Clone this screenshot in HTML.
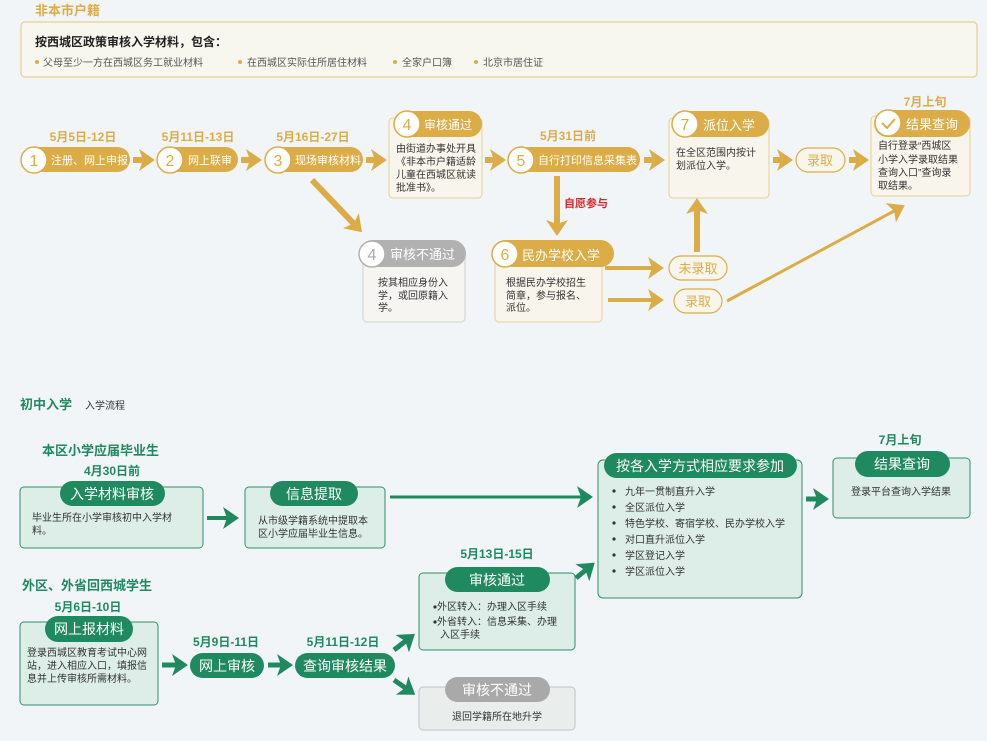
<!DOCTYPE html>
<html><head><meta charset="utf-8"><style>
html,body{margin:0;padding:0;background:#f1f5f8;}
svg{display:block;font-family:"Liberation Sans","Noto Sans CJK SC",sans-serif;}
</style></head><body>
<svg width="987" height="741" viewBox="0 0 987 741" xmlns="http://www.w3.org/2000/svg">
<defs>
<marker id="mg" markerWidth="18" markerHeight="22" refX="6" refY="11" orient="auto" markerUnits="userSpaceOnUse"><path d="M0,0 L16,11 L0,22 L4,11z" fill="#dcad47"/></marker>
<marker id="mgr" markerWidth="18" markerHeight="22" refX="6" refY="11" orient="auto" markerUnits="userSpaceOnUse"><path d="M0,0 L16,11 L0,22 L4,11z" fill="#1f8a5f"/></marker>
</defs>
<rect width="987" height="741" fill="#f1f5f8"/>

<!-- TOP SECTION -->
<text x="35" y="15" font-size="13" font-weight="bold" fill="#dcad47">非本市户籍</text>
<rect x="21" y="22" width="956" height="55" rx="4" fill="#f8f7ef" stroke="#e6cf90" stroke-width="1.2"/>
<text x="35" y="46" font-size="12" font-weight="bold" fill="#222">按西城区政策审核入学材料，包含：</text>
<g font-size="10" fill="#555">
<circle cx="37" cy="62" r="2" fill="#dcad47"/><text x="43" y="66">父母至少一方在西城区务工就业材料</text>
<circle cx="240" cy="62" r="2" fill="#dcad47"/><text x="247" y="66">在西城区实际住所居住材料</text>
<circle cx="395" cy="62" r="2" fill="#dcad47"/><text x="402" y="66">全家户口簿</text>
<circle cx="476" cy="62" r="2" fill="#dcad47"/><text x="483" y="66">北京市居住证</text>
</g>

<!-- dates -->
<g font-size="12" font-weight="bold" fill="#dcad47" text-anchor="middle">
<text x="83" y="141">5月5日-12日</text>
<text x="198" y="141">5月11日-13日</text>
<text x="313" y="141">5月16日-27日</text>
<text x="568" y="140">5月31日前</text>
<text x="925" y="106">7月上旬</text>
</g>

<!-- pills row 1 -->
<rect x="22" y="147" width="108" height="25" rx="12.5" fill="#dcad47"/>
<circle cx="34" cy="160" r="13" fill="#fff" stroke="#dcad47" stroke-width="1.5"/><text x="34" y="166" font-size="16" fill="#dcad47" text-anchor="middle">1</text>
<text x="51" y="164" font-size="11" fill="#fff">注册、网上申报</text>

<rect x="158" y="147" width="80" height="25" rx="12.5" fill="#dcad47"/>
<circle cx="170" cy="160" r="13" fill="#fff" stroke="#dcad47" stroke-width="1.5"/><text x="170" y="166" font-size="16" fill="#dcad47" text-anchor="middle">2</text>
<text x="188" y="164" font-size="11" fill="#fff">网上联审</text>

<rect x="266" y="147" width="97" height="25" rx="12.5" fill="#dcad47"/>
<circle cx="278" cy="160" r="13" fill="#fff" stroke="#dcad47" stroke-width="1.5"/><text x="278" y="166" font-size="16" fill="#dcad47" text-anchor="middle">3</text>
<text x="295" y="164" font-size="11" fill="#fff">现场审核材料</text>

<!-- box 4 pass -->
<rect x="389" y="118" width="93" height="80" rx="4" fill="#f8f5ec" stroke="#e6cf90"/>
<rect x="394" y="111" width="88" height="26" rx="13" fill="#dcad47"/>
<circle cx="407" cy="124" r="13" fill="#fff" stroke="#dcad47" stroke-width="1.5"/><text x="407" y="130" font-size="16" fill="#dcad47" text-anchor="middle">4</text>
<text x="424" y="129" font-size="12" fill="#fff">审核通过</text>
<g font-size="10" fill="#333"><text x="396" y="152">由街道办事处开具</text><text x="396" y="165">《非本市户籍适龄</text><text x="396" y="178">儿童在西城区就读</text><text x="396" y="191">批准书》。</text></g>

<!-- pill 5 -->
<rect x="509" y="147" width="131" height="25" rx="12.5" fill="#dcad47"/>
<circle cx="521" cy="160" r="13" fill="#fff" stroke="#dcad47" stroke-width="1.5"/><text x="521" y="166" font-size="16" fill="#dcad47" text-anchor="middle">5</text>
<text x="538" y="164" font-size="11" fill="#fff">自行打印信息采集表</text>

<!-- box 7 -->
<rect x="669" y="118" width="100" height="80" rx="4" fill="#f8f5ec" stroke="#e6cf90"/>
<rect x="673" y="111" width="96" height="26" rx="13" fill="#dcad47"/>
<circle cx="685" cy="124" r="13" fill="#fff" stroke="#dcad47" stroke-width="1.5"/><text x="685" y="130" font-size="16" fill="#dcad47" text-anchor="middle">7</text>
<text x="703" y="130" font-size="13" fill="#fff">派位入学</text>
<g font-size="10" fill="#333"><text x="676" y="156">在全区范围内按计</text><text x="676" y="169">划派位入学。</text></g>

<rect x="796" y="148" width="49" height="24" rx="12" fill="#f8f5ec" stroke="#dcad47" stroke-width="1.2"/>
<text x="820" y="165" font-size="13" fill="#dcad47" text-anchor="middle">录取</text>

<!-- result box -->
<rect x="871" y="116" width="99" height="80" rx="4" fill="#f8f5ec" stroke="#e6cf90"/>
<rect x="874" y="110" width="96" height="27" rx="13.5" fill="#dcad47"/>
<circle cx="888" cy="123" r="13" fill="#fff" stroke="#dcad47" stroke-width="1.5"/>
<path d="M882,123 L887,128 L895,119" fill="none" stroke="#dcad47" stroke-width="2"/>
<text x="906" y="129" font-size="13" fill="#fff">结果查询</text>
<g font-size="10" fill="#333"><text x="878" y="149">自行登录“西城区</text><text x="878" y="163">小学入学录取结果</text><text x="878" y="176">查询入口”查询录</text><text x="878" y="189">取结果。</text></g>

<!-- box 4 fail -->
<rect x="363" y="250" width="102" height="72" rx="4" fill="#f6f5f2" stroke="#cfcfcf"/>
<rect x="359" y="240" width="107" height="27" rx="13.5" fill="#b1b1b1"/>
<circle cx="372" cy="254" r="13" fill="#fff" stroke="#b1b1b1" stroke-width="1.5"/><text x="372" y="260" font-size="16" fill="#aaa" text-anchor="middle">4</text>
<text x="390" y="259" font-size="13" fill="#fff">审核不通过</text>
<g font-size="10" fill="#333"><text x="378" y="286">按其相应身份入</text><text x="378" y="299">学，或回原籍入</text><text x="378" y="311">学。</text></g>

<!-- box 6 -->
<rect x="495" y="250" width="107" height="72" rx="4" fill="#f8f5ec" stroke="#e6cf90"/>
<rect x="492" y="240" width="122" height="27" rx="13.5" fill="#dcad47"/>
<circle cx="505" cy="254" r="13" fill="#fff" stroke="#dcad47" stroke-width="1.5"/><text x="505" y="260" font-size="16" fill="#dcad47" text-anchor="middle">6</text>
<text x="522" y="260" font-size="13" fill="#fff">民办学校入学</text>
<g font-size="10" fill="#333"><text x="506" y="286">根据民办学校招生</text><text x="506" y="299">简章，参与报名、</text><text x="506" y="311">派位。</text></g>

<rect x="669" y="256" width="58" height="24" rx="12" fill="#f8f5ec" stroke="#dcad47" stroke-width="1.2"/>
<text x="698" y="273" font-size="13" fill="#dcad47" text-anchor="middle">未录取</text>
<rect x="674" y="289" width="48" height="24" rx="12" fill="#f8f5ec" stroke="#dcad47" stroke-width="1.2"/>
<text x="698" y="306" font-size="13" fill="#dcad47" text-anchor="middle">录取</text>

<text x="564" y="207" font-size="11" font-weight="bold" fill="#d8262b">自愿参与</text>

<!-- gold arrows -->
<g stroke="#dcad47" stroke-width="6" marker-end="url(#mg)">
<line x1="133" y1="160" x2="145" y2="160"/>
<line x1="241" y1="160" x2="252" y2="160"/>
<line x1="366" y1="160" x2="377" y2="160"/>
<line x1="485" y1="160" x2="496" y2="160"/>
<line x1="644" y1="160" x2="655" y2="160"/>
<line x1="773" y1="160" x2="783" y2="160"/>
<line x1="849" y1="160" x2="859" y2="160"/>
<line x1="557" y1="176" x2="557" y2="226"/>
<line x1="312" y1="180" x2="355" y2="225"/>
<line x1="697" y1="252" x2="697" y2="208"/>
</g>
<g stroke="#dcad47" marker-end="url(#mg)">
<line x1="605" y1="268" x2="654" y2="268" stroke-width="4"/>
<line x1="608" y1="300" x2="654" y2="300" stroke-width="4"/>
<line x1="727" y1="301" x2="896" y2="210" stroke-width="3"/>
</g>

<!-- BOTTOM SECTION -->
<text x="20" y="409" font-size="13" font-weight="bold" fill="#1f8a5f">初中入学</text>
<text x="85" y="409" font-size="10" fill="#333">入学流程</text>
<text x="42" y="455" font-size="13" font-weight="bold" fill="#1f8a5f">本区小学应届毕业生</text>
<g font-size="12" font-weight="bold" fill="#1f8a5f" text-anchor="middle">
<text x="112" y="475">4月30日前</text>
<text x="88" y="611">5月6日-10日</text>
<text x="226" y="646">5月9日-11日</text>
<text x="343" y="646">5月11日-12日</text>
<text x="497" y="558">5月13日-15日</text>
<text x="900" y="444">7月上旬</text>
</g>
<text x="22" y="590" font-size="13" font-weight="bold" fill="#1f8a5f">外区、外省回西城学生</text>

<g fill="#ddeee8" stroke="#2f8f67" stroke-width="1">
<rect x="20" y="487" width="183" height="61" rx="4"/>
<rect x="245" y="487" width="140" height="61" rx="4"/>
<rect x="598" y="460" width="204" height="138" rx="5"/>
<rect x="833" y="458" width="137" height="60" rx="4"/>
<rect x="20" y="622" width="138" height="83" rx="4"/>
<rect x="419" y="573" width="156" height="77" rx="4"/>
</g>
<rect x="419" y="687" width="156" height="43" rx="4" fill="#e9eeec" stroke="#bcc4c0"/>

<g fill="#1f8a5f">
<rect x="60" y="481" width="105" height="25" rx="12.5"/>
<rect x="270" y="481" width="88" height="25" rx="12.5"/>
<rect x="604" y="453" width="193" height="25" rx="12.5"/>
<rect x="855" y="451" width="95" height="26" rx="13"/>
<rect x="45" y="616" width="88" height="26" rx="13"/>
<rect x="190" y="653" width="74" height="25" rx="12.5"/>
<rect x="295" y="653" width="100" height="25" rx="12.5"/>
<rect x="445" y="567" width="105" height="25" rx="12.5"/>
</g>
<rect x="445" y="677" width="105" height="25" rx="12.5" fill="#a9a9a9"/>

<g font-size="14" fill="#fff" text-anchor="middle">
<text x="112" y="499">入学材料审核</text>
<text x="314" y="499">信息提取</text>
<text x="700" y="471">按各入学方式相应要求参加</text>
<text x="902" y="469">结果查询</text>
<text x="89" y="634">网上报材料</text>
<text x="227" y="671">网上审核</text>
<text x="345" y="671">查询审核结果</text>
<text x="497" y="585">审核通过</text>
<text x="497" y="695">审核不通过</text>
</g>

<g font-size="10" fill="#333">
<text x="32" y="521">毕业生所在小学审核初中入学材</text><text x="32" y="534">料。</text>
<text x="258" y="524">从市级学籍系统中提取本</text><text x="258" y="537">区小学应届毕业生信息。</text>
<text x="27" y="656">登录西城区教育考试中心网</text><text x="27" y="669">站，进入相应入口，填报信</text><text x="27" y="682">息并上传审核所需材料。</text>
<text x="437" y="610">外区转入：办理入区手续</text>
<text x="437" y="625">外省转入：信息采集、办理</text><text x="440" y="638">入区手续</text>
<text x="497" y="720" text-anchor="middle">退回学籍所在地升学</text>
<text x="901" y="495" text-anchor="middle">登录平台查询入学结果</text>
<text x="625" y="495">九年一贯制直升入学</text>
<text x="625" y="511">全区派位入学</text>
<text x="625" y="527">特色学校、寄宿学校、民办学校入学</text>
<text x="625" y="543">对口直升派位入学</text>
<text x="625" y="559">学区登记入学</text>
<text x="625" y="575">学区派位入学</text>
</g>
<g fill="#333">
<circle cx="435" cy="607" r="1.6"/><circle cx="435" cy="622" r="1.6"/>
<circle cx="614" cy="491" r="1.6"/><circle cx="614" cy="507" r="1.6"/><circle cx="614" cy="523" r="1.6"/>
<circle cx="614" cy="539" r="1.6"/><circle cx="614" cy="555" r="1.6"/><circle cx="614" cy="571" r="1.6"/>
</g>

<!-- green arrows -->
<g stroke="#1f8a5f" marker-end="url(#mgr)">
<line x1="207" y1="518" x2="229" y2="518" stroke-width="4"/>
<line x1="390" y1="497" x2="583" y2="497" stroke-width="3"/>
<line x1="806" y1="499" x2="819" y2="499" stroke-width="5"/>
<line x1="162" y1="665" x2="178" y2="665" stroke-width="5"/>
<line x1="268" y1="665" x2="283" y2="665" stroke-width="5"/>
<line x1="394" y1="650" x2="407" y2="640" stroke-width="5"/>
<line x1="394" y1="680" x2="407" y2="689" stroke-width="5"/>
<line x1="576" y1="578" x2="587" y2="569" stroke-width="5"/>
</g>
</svg>
</body></html>
